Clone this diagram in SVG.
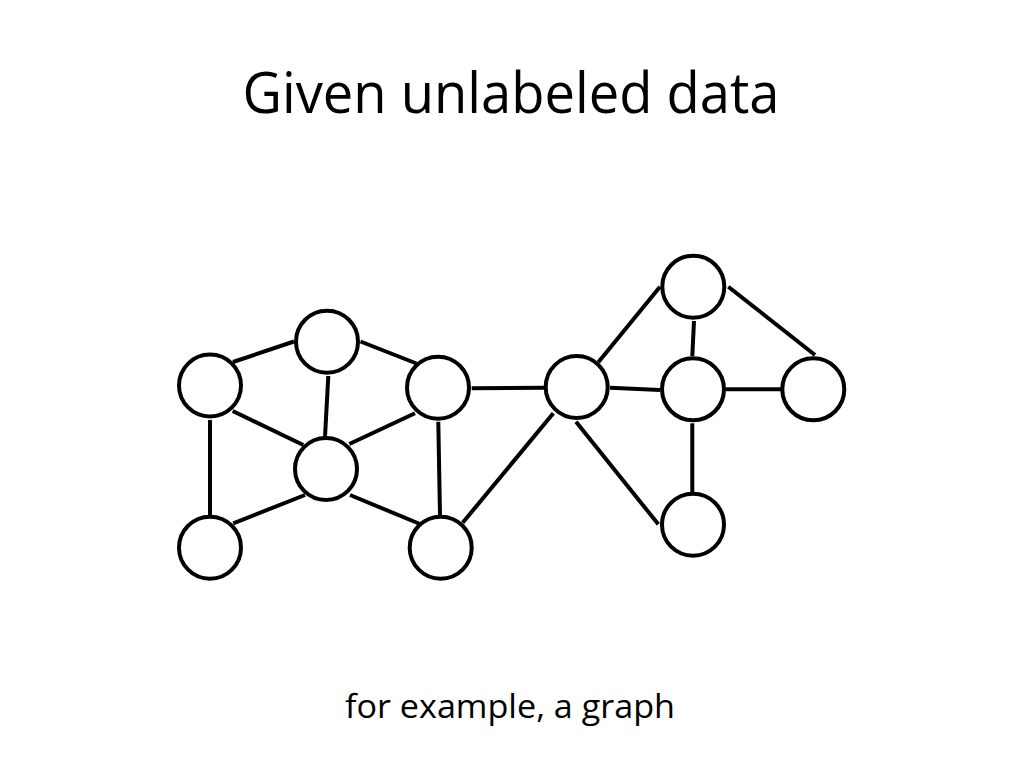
<svg xmlns="http://www.w3.org/2000/svg" width="1024" height="768" viewBox="0 0 1024 768">
<style>
.n{fill:#fff;stroke:#000;stroke-width:4}
.e line{stroke:#000;stroke-width:4;stroke-linecap:butt}
.t{font-family:"Open Sans","Liberation Sans",sans-serif;fill:#000;text-anchor:middle}
</style>
<rect width="1024" height="768" fill="#fff"/>
<text class="t" x="511" y="113" font-size="56" textLength="537" lengthAdjust="spacingAndGlyphs">Given unlabeled data</text>
<g class="e" id="edges">
<line x1="233" y1="362" x2="294" y2="341.5"/>
<line x1="360.5" y1="341.5" x2="416.5" y2="363.5"/>
<line x1="328.3" y1="376" x2="325" y2="437"/>
<line x1="232.7" y1="411" x2="303.3" y2="445"/>
<line x1="349.3" y1="444" x2="415" y2="413.3"/>
<line x1="210" y1="420" x2="210" y2="516"/>
<line x1="305" y1="495" x2="233.3" y2="523.3"/>
<line x1="350" y1="495" x2="420" y2="524"/>
<line x1="438.3" y1="421.7" x2="440" y2="516"/>
<line x1="471.7" y1="388.3" x2="544" y2="387.7"/>
<line x1="462.7" y1="522.7" x2="553.3" y2="413.3"/>
<line x1="598.3" y1="362.3" x2="660" y2="286.7"/>
<line x1="694" y1="321" x2="692.3" y2="356"/>
<line x1="610" y1="387.7" x2="660" y2="390"/>
<line x1="728.3" y1="286.7" x2="815" y2="355"/>
<line x1="726" y1="389.3" x2="781" y2="389.3"/>
<line x1="692.3" y1="423.3" x2="692.3" y2="492"/>
<line x1="576" y1="421.7" x2="658.3" y2="524.3"/>
</g>
<g id="nA"><circle class="n" cx="210" cy="385.5" r="31"/></g>
<g id="nB"><circle class="n" cx="327" cy="341.7" r="31"/></g>
<g id="nC"><circle class="n" cx="438" cy="387.7" r="31"/></g>
<g id="nD"><circle class="n" cx="326" cy="469" r="31"/></g>
<g id="nE"><circle class="n" cx="210" cy="547.7" r="31"/></g>
<g id="nF"><circle class="n" cx="440.7" cy="547.7" r="31"/></g>
<g id="nG"><circle class="n" cx="576.7" cy="387" r="31"/></g>
<g id="nH"><circle class="n" cx="693.3" cy="286.7" r="31"/></g>
<g id="nI"><circle class="n" cx="693" cy="389.3" r="31"/></g>
<g id="nJ"><circle class="n" cx="813.3" cy="389.3" r="31"/></g>
<g id="nK"><circle class="n" cx="693" cy="524.7" r="31"/></g>
<text class="t" x="510" y="718" font-size="32" textLength="330" lengthAdjust="spacingAndGlyphs">for example, a graph</text>
</svg>
